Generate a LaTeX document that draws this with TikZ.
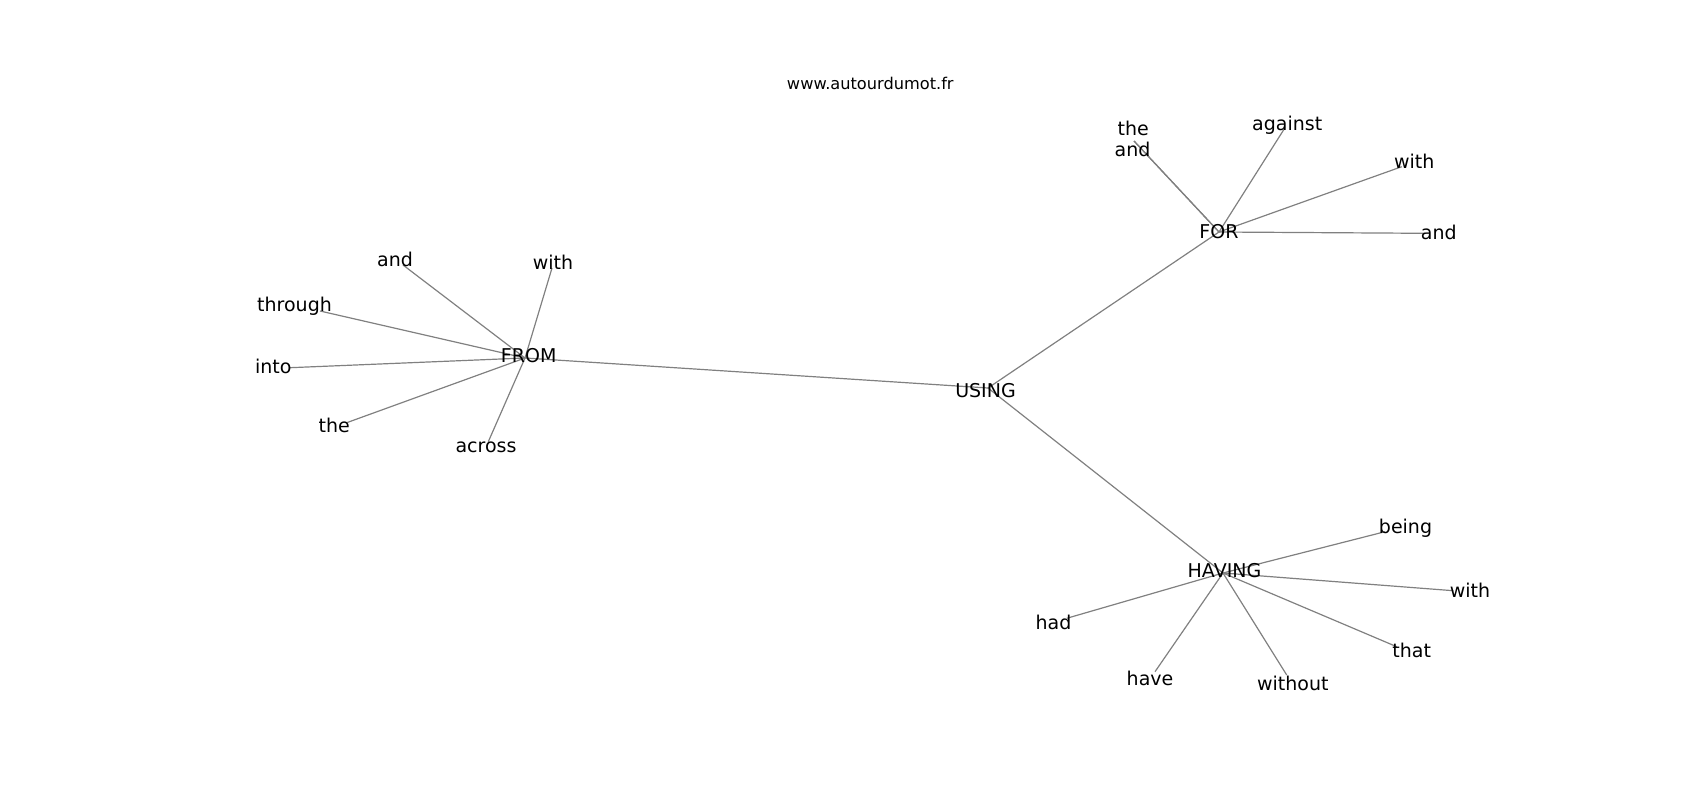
\documentclass[tikz,border=0pt]{standalone}
\usepackage{fontspec}
\setmainfont{DejaVu Sans}
\begin{document}
\begin{tikzpicture}[x=1pt,y=-1pt,
  lbl/.style={anchor=base,inner sep=0pt,font=\fontsize{19}{22}\selectfont,text=black},
  ttl/.style={anchor=base,inner sep=0pt,font=\fontsize{16.2}{19}\selectfont,text=black},
  edge/.style={draw=black!50,line width=1.2pt}]
\useasboundingbox (0,0) rectangle (1700,800);
% hubs and edge ends
\coordinate (hFROM) at (525,358);
\coordinate (hUSING) at (988,388);
\coordinate (hFOR) at (1219,232);
\coordinate (hHAVING) at (1223,573);
\coordinate (pand1) at (403,265);
\coordinate (pwith1) at (552,268);
\coordinate (pthrough) at (320,311);
\coordinate (pinto) at (290,367.7);
\coordinate (pthe1) at (346.7,422.7);
\coordinate (pacross) at (488.3,441.7);
\coordinate (pthe2) at (1134,141);
\coordinate (pand2) at (1134,141);
\coordinate (pagainst) at (1284,129.3);
\coordinate (pwith2) at (1401.7,166.7);
\coordinate (pand3) at (1425,233.3);
\coordinate (pbeing) at (1385,531.7);
\coordinate (pwith3) at (1453.3,590.7);
\coordinate (phad) at (1066.7,618.3);
\coordinate (pthat) at (1396.7,646.7);
\coordinate (phave) at (1155,671.7);
\coordinate (pwithout) at (1286.7,675);
% edges
\draw[edge] (hFROM) -- (hUSING);
\draw[edge] (hUSING) -- (hFOR);
\draw[edge] (hUSING) -- (hHAVING);
\foreach \p in {pand1,pwith1,pthrough,pinto,pthe1,pacross}{\draw[edge] (hFROM) -- (\p);}
\foreach \p in {pthe2,pand2,pagainst,pwith2,pand3}{\draw[edge] (hFOR) -- (\p);}
\foreach \p in {pbeing,pwith3,phad,pthat,phave,pwithout}{\draw[edge] (hHAVING) -- (\p);}
% labels
\node[ttl] (title) at (870.3,89) {www.autourdumot.fr};
\node[lbl] (FROM) at (528.7,362.7) {FROM};
\node[lbl] (USING) at (985.5,397.3) {USING};
\node[lbl] (FOR) at (1219,238.3) {FOR};
\node[lbl] (HAVING) at (1224.5,577.7) {HAVING};
\node[lbl] (and1) at (395,266.7) {and};
\node[lbl] (with1) at (553,269.3) {with};
\node[lbl] (through) at (294.5,311.7) {through};
\node[lbl] (into) at (273.3,373.3) {into};
\node[lbl] (the1) at (334.3,432.7) {the};
\node[lbl] (across) at (486,452.7) {across};
\node[lbl] (the2) at (1133.3,135) {the};
\node[lbl] (and2) at (1132.5,156.7) {and};
\node[lbl] (against) at (1287.2,130.7) {against};
\node[lbl] (with2) at (1414.2,168.3) {with};
\node[lbl] (and3) at (1438.8,239.3) {and};
\node[lbl] (being) at (1405.5,533.3) {being};
\node[lbl] (with3) at (1470,597.7) {with};
\node[lbl] (had) at (1053.5,629) {had};
\node[lbl] (that) at (1411.7,657.7) {that};
\node[lbl] (have) at (1150,685) {have};
\node[lbl] (without) at (1292.8,690) {without};
\end{tikzpicture}
\end{document}
